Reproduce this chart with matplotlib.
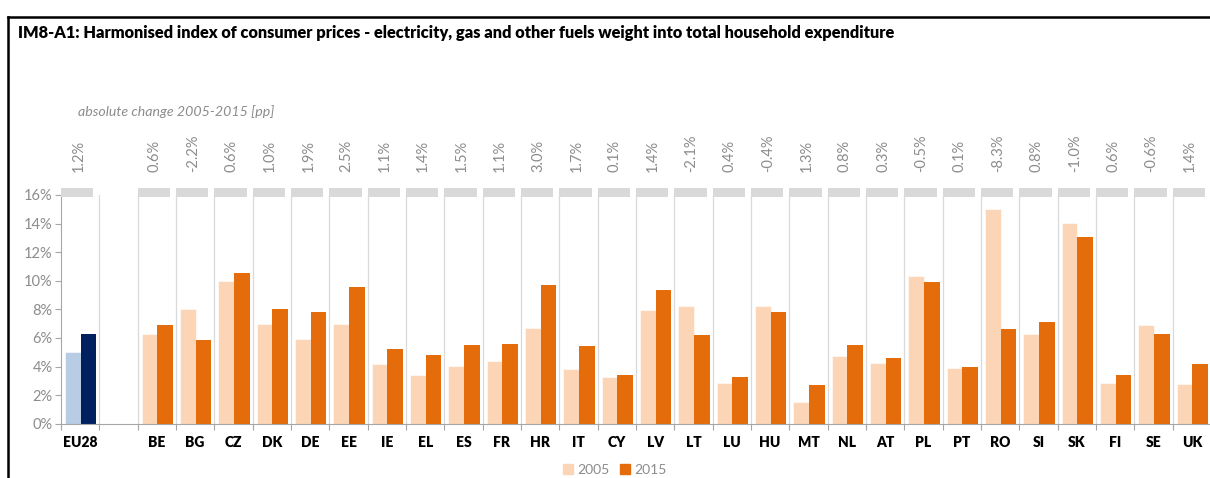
import numpy as np
import matplotlib.pyplot as plt
from matplotlib.lines import Line2D
from matplotlib.patches import Patch

plt.rcParams['font.family'] = ['Lato', 'DejaVu Sans']

# === Data ===
eu_label = 'EU28'
eu_2005 = 5.0
eu_2015 = 6.25
eu_change = 1.2

countries = ['BE', 'BG', 'CZ', 'DK', 'DE', 'EE', 'IE', 'EL', 'ES', 'FR', 'HR', 'IT', 'CY', 'LV',
             'LT', 'LU', 'HU', 'MT', 'NL', 'AT', 'PL', 'PT', 'RO', 'SI', 'SK', 'FI', 'SE', 'UK']
val_2005 = [6.25, 8.0, 9.95, 7.0, 5.95, 7.0, 4.2, 3.4, 4.03, 4.4, 6.72, 3.8, 3.27, 7.95,
            8.26, 2.87, 8.26, 1.5, 4.73, 4.27, 10.33, 3.87, 15.0, 6.25, 14.04, 2.87, 6.88, 2.8]
val_2015 = [6.88, 5.88, 10.57, 8.0, 7.8, 9.56, 5.25, 4.8, 5.5, 5.57, 9.73, 5.41, 3.41, 9.35,
            6.18, 3.24, 7.8, 2.73, 5.5, 4.57, 9.89, 3.94, 6.65, 7.11, 13.04, 3.41, 6.25, 4.17]
change = [0.6, -2.2, 0.6, 1.0, 1.9, 2.5, 1.1, 1.4, 1.5, 1.1, 3.0, 1.7, 0.1, 1.4,
          -2.1, 0.4, -0.4, 1.3, 0.8, 0.3, -0.5, 0.1, -8.3, 0.8, -1.0, 0.6, -0.6, 1.4]

# === Colours ===
c05 = '#FBD5B5'
c15 = '#E46C0A'
eu05 = '#B8CCE4'
eu15 = '#002060'
grey_txt = '#8C8C8C'
grid_c = '#D9D9D9'

fig = plt.figure(figsize=(12.1, 4.78), dpi=100)
ax = fig.add_axes([61 / 1210, 0.1136, 1150 / 1210, 0.4785])

# slot 0 = EU28, slot 1 = empty, slots 2.. = countries
pos = np.arange(len(countries)) + 2
bw = 0.41

ax.bar(0.10, eu_2005, width=bw, align='edge', color=eu05, edgecolor='white', linewidth=0.4)
ax.bar(0.10 + bw, eu_2015, width=bw, align='edge', color=eu15)
ax.bar(pos + 0.10, val_2005, width=bw, align='edge', color=c05, edgecolor='white', linewidth=0.4)
ax.bar(pos + 0.10 + bw, val_2015, width=bw, align='edge', color=c15)

# grey header boxes above the plot
slots = np.concatenate([[0], pos])
ax.bar(slots, [0.65] * len(slots), bottom=15.85, width=0.84, align='edge',
       color=grid_c, clip_on=False, zorder=3)

# vertical separators
for b in range(1, 30):
    ax.plot([b, b], [0, 16], color=grid_c, lw=0.9, zorder=0)

# change labels
for s, c in zip(slots, [eu_change] + change):
    ax.text(s + 0.45, 17.6, f"{c:.1f}%", rotation=90, ha='center', va='bottom',
            color=grey_txt, fontsize=10.5)

ax.set_xlim(0, 30)
ax.set_ylim(0, 16)
ax.set_yticks(np.arange(0, 17, 2))
ax.set_yticklabels([f"{v}%" for v in range(0, 17, 2)], color=grey_txt, fontsize=10.5)
ax.set_xticks(np.arange(0, 31))
ax.set_xticklabels([])
ax.set_xticks(np.concatenate([[0.5], pos + 0.5]), minor=True)
ax.set_xticklabels([eu_label] + countries, minor=True, fontweight='heavy', fontsize=10)
ax.tick_params(axis='x', which='minor', length=0, pad=9)
ax.tick_params(axis='x', which='major', length=4, color='#A6A6A6', direction='out')
ax.tick_params(axis='y', length=4, color='#A6A6A6', pad=2)
for side in ['top', 'right']:
    ax.spines[side].set_visible(False)
ax.spines['left'].set_color('#A6A6A6')
ax.spines['bottom'].set_color('#A6A6A6')

fig.text(78 / 1210, 1 - 112 / 478, 'absolute change 2005-2015 [pp]', style='italic',
         color=grey_txt, fontsize=10.2, va='center')
fig.text(18 / 1210, 1 - 33 / 478,
         'IM8-A1: Harmonised index of consumer prices - electricity, gas and other fuels weight into total household expenditure',
         fontweight='heavy', fontsize=11.8, va='center')

# outer frame
fig.add_artist(Line2D([8 / 1210, 8 / 1210], [0, 1 - 17 / 478], color='black', lw=1.8,
                      transform=fig.transFigure))
fig.add_artist(Line2D([8 / 1210, 1], [1 - 17 / 478, 1 - 17 / 478], color='black', lw=1.8,
                      transform=fig.transFigure))

handles = [Patch(color=c05, label='2005'), Patch(color=c15, label='2015')]
fig.legend(handles=handles, loc='center', bbox_to_anchor=(615 / 1210, 1 - 470 / 478), ncol=2,
           frameon=False, fontsize=10, labelcolor=grey_txt, handlelength=0.7,
           handleheight=0.7, handletextpad=0.3, columnspacing=0.8)

fig.savefig('out.png', dpi=100)
